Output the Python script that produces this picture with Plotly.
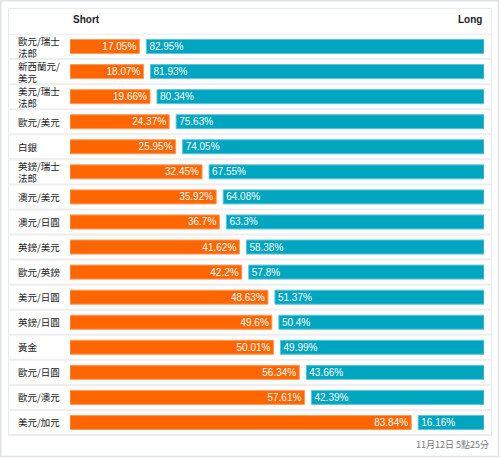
import plotly.graph_objects as go

categories = ["歐元/瑞士<br>法郎", "新西蘭元/<br>美元", "美元/瑞士<br>法郎", "歐元/美元", "白銀",
              "英鎊/瑞士<br>法郎", "澳元/美元", "澳元/日圓", "英鎊/美元", "歐元/英鎊",
              "美元/日圓", "英鎊/日圓", "黃金", "歐元/日圓", "歐元/澳元", "美元/加元"]
short_pct = [17.05, 18.07, 19.66, 24.37, 25.95, 32.45, 35.92, 36.7, 41.62, 42.2,
             48.63, 49.6, 50.01, 56.34, 57.61, 83.84]
long_pct = [82.95, 81.93, 80.34, 75.63, 74.05, 67.55, 64.08, 63.3, 58.38, 57.8,
            51.37, 50.4, 49.99, 43.66, 42.39, 16.16]
header_short = "Short"
header_long = "Long"
footer_text = "11月12日 5點25分"

GAP = 1.72  # visual gap between the two bars, in axis units
W, H = 500, 458
L, R, T, B = 70, 16, 34, 23
PW, PH = W - L - R, H - T - B
ORANGE, TEAL = "#FF6600", "#00A6BF"
FONT = "Liberation Sans, Arial, Noto Sans CJK TC, sans-serif"
CJK = "Noto Sans CJK TC, sans-serif"

def px(x):
    return (x - L) / PW

def py(y):
    return 1 - (y - T) / PH

ys = list(range(len(categories)))

fig = go.Figure()
fig.add_trace(go.Bar(
    y=ys, x=short_pct, base=[0] * len(ys), orientation="h",
    marker=dict(color=ORANGE, line=dict(color="#FF9A5C", width=1)),
    text=[f"{v:g}%" for v in short_pct], textposition="inside",
    insidetextanchor="end", constraintext="none",
    textfont=dict(color="white", size=10, family=FONT),
    width=0.56, hoverinfo="skip", cliponaxis=False,
))
fig.add_trace(go.Bar(
    y=ys, x=long_pct, base=[s + GAP for s in short_pct], orientation="h",
    marker=dict(color=TEAL, line=dict(color="#5CC6D6", width=1)),
    text=[f"{v:g}%" for v in long_pct], textposition="inside",
    insidetextanchor="start", constraintext="none",
    textfont=dict(color="white", size=10, family=FONT),
    width=0.56, hoverinfo="skip", cliponaxis=False,
))

shapes = []
# outer frame
shapes.append(dict(type="rect", xref="paper", yref="paper",
                   x0=px(0.75), x1=px(498.5), y0=py(0.75), y1=py(456.5),
                   line=dict(color="#dde3e6", width=1.5), layer="below"))
# inner panel
shapes.append(dict(type="rect", xref="paper", yref="paper",
                   x0=px(8.5), x1=px(491.5), y0=py(8.5), y1=py(435.5),
                   line=dict(color="#e9ecee", width=1), layer="below"))
# row separators
for k in range(len(categories) + 1):
    shapes.append(dict(type="line", xref="paper", yref="y",
                       x0=px(9), x1=px(491), y0=k - 0.5, y1=k - 0.5,
                       line=dict(color="#eeeeee", width=2), layer="below"))

annotations = []
for i, cat in enumerate(categories):
    annotations.append(dict(x=px(17), y=i, xref="paper", yref="y", text=cat,
                            showarrow=False, xanchor="left", yanchor="middle",
                            align="left", borderpad=0,
                            font=dict(size=9.5, color="#1a1a1a", family=CJK)))
annotations.append(dict(x=px(71), y=py(20), xref="paper", yref="paper", text=f"<b>{header_short}</b>",
                        showarrow=False, xanchor="left", yanchor="middle",
                        font=dict(size=10, color="#222222", family=FONT)))
annotations.append(dict(x=px(484), y=py(20), xref="paper", yref="paper", text=f"<b>{header_long}</b>",
                        showarrow=False, xanchor="right", yanchor="middle",
                        font=dict(size=10, color="#222222", family=FONT)))
annotations.append(dict(x=px(491), y=py(444), xref="paper", yref="paper", text=footer_text,
                        showarrow=False, xanchor="right", yanchor="middle",
                        font=dict(size=9, color="#777777", family=CJK)))

fig.update_layout(
    width=W, height=H, barmode="overlay",
    margin=dict(l=L, r=R, t=T, b=B, pad=0),
    paper_bgcolor="white", plot_bgcolor="white",
    showlegend=False,
    xaxis=dict(range=[0, 100 + GAP], visible=False, fixedrange=True),
    yaxis=dict(range=[len(categories) - 0.5, -0.5], visible=False, fixedrange=True),
    shapes=shapes, annotations=annotations,
)
fig.write_html("out.html", config={"displayModeBar": False},
               post_script="document.body.style.margin='0';document.body.style.overflow='hidden';")
